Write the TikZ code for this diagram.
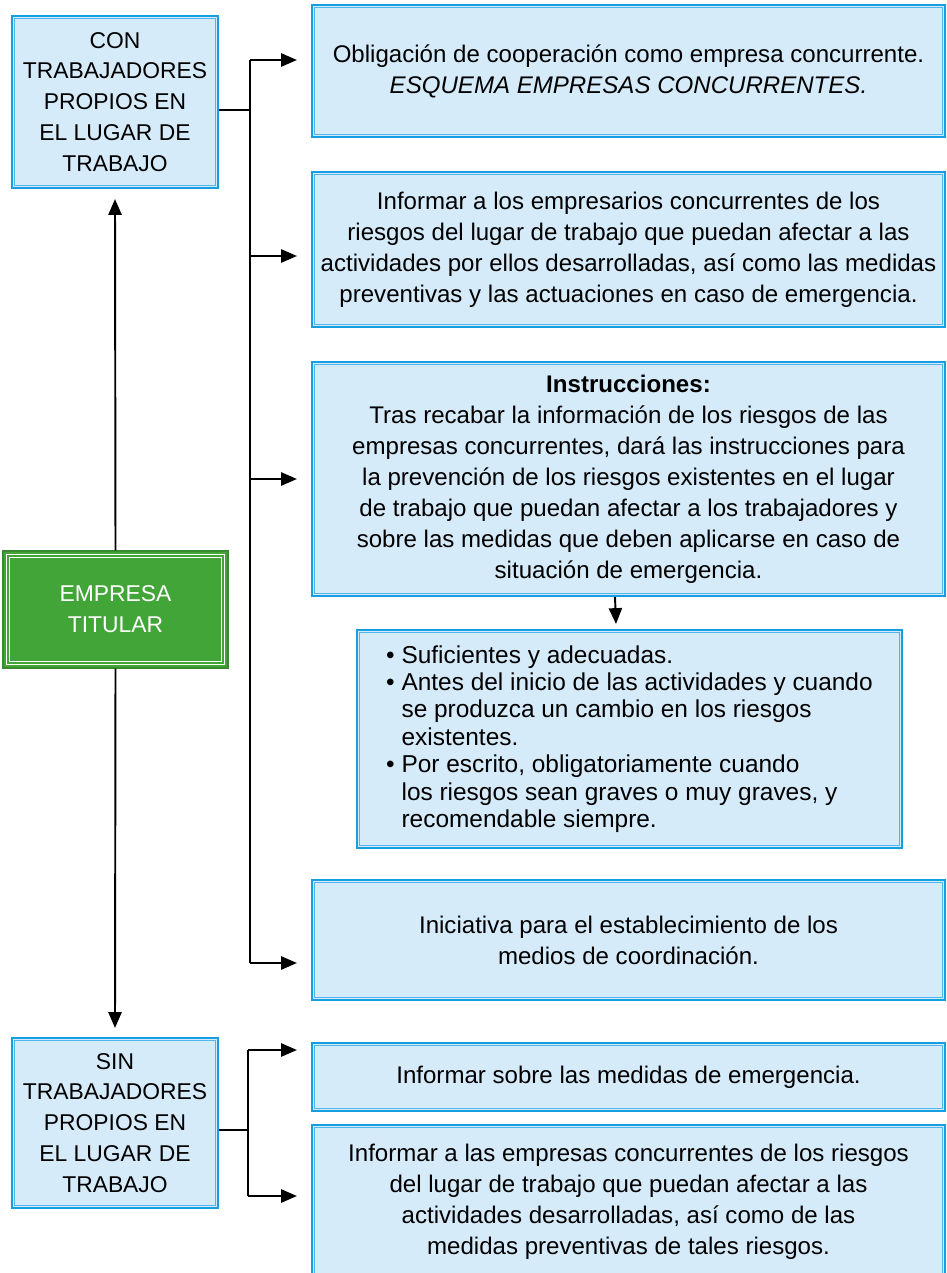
\documentclass[tikz,border=0pt]{standalone}
\usepackage{fontspec}
\setmainfont{Liberation Sans}
\usetikzlibrary{arrows.meta, positioning, calc}
\definecolor{bordeazul}{RGB}{22,158,226}
\definecolor{fondoazul}{RGB}{214,235,250}
\definecolor{lineaazul}{RGB}{80,182,236}
\definecolor{verdetitular}{RGB}{66,165,55}

\begin{document}
\begin{tikzpicture}[
    caja/.style={rectangle, draw=bordeazul, line width=1.2pt, fill=fondoazul, align=center, inner sep=0pt,
        font=\fontsize{13.7}{17.6}\selectfont},
    lateral/.style={caja, font=\fontsize{13}{17.6}\selectfont},
    titular/.style={rectangle, draw=verdetitular!85!black, line width=0.8pt, fill=verdetitular, text=white,
        align=center, inner sep=0pt, font=\fontsize{13}{17.6}\selectfont},
    interior/.style={draw=lineaazul, line width=0.6pt},
    flecha/.style={-{Triangle[length=9pt, width=7.5pt]}, line width=1.1pt},
    linea/.style={line width=1.1pt}]

    \useasboundingbox (0,0) rectangle (18.94,-25.46);

    % columna izquierda
    \node[lateral, minimum width=4.12cm, minimum height=3.44cm] (con) at (2.30,-2.04)
        {CON\\TRABAJADORES\\PROPIOS EN\\EL LUGAR DE\\TRABAJO};
    \node[titular, minimum width=4.5cm, minimum height=2.34cm] (emp) at (2.31,-12.19)
        {EMPRESA\\TITULAR};
    \node[lateral, minimum width=4.12cm, minimum height=3.40cm] (sin) at (2.30,-22.46)
        {SIN\\TRABAJADORES\\PROPIOS EN\\EL LUGAR DE\\TRABAJO};

    % columna derecha
    \node[caja, minimum width=12.66cm, minimum height=2.64cm] (oblig) at (12.57,-1.42)
        {Obligación de cooperación como empresa concurrente.\\\textit{ESQUEMA EMPRESAS CONCURRENTES.}};
    \node[caja, minimum width=12.66cm, minimum height=3.10cm] (informar) at (12.57,-4.99)
        {Informar a los empresarios concurrentes de los\\riesgos del lugar de trabajo que puedan afectar a las\\
         actividades por ellos desarrolladas, así como las medidas\\preventivas y las actuaciones en caso de emergencia.};
    \node[caja, minimum width=12.66cm, minimum height=4.68cm] (instr) at (12.57,-9.58)
        {\textbf{Instrucciones:}\\Tras recabar la información de los riesgos de las\\
         empresas concurrentes, dará las instrucciones para\\la prevención de los riesgos existentes en el lugar\\
         de trabajo que puedan afectar a los trabajadores y\\sobre las medidas que deben aplicarse en caso de\\
         situación de emergencia.};
    \node[caja, minimum width=10.9cm, minimum height=4.36cm, align=left,
          font=\fontsize{13.9}{15.6}\selectfont] (detalle) at (12.59,-14.78)
        {• Suficientes y adecuadas.\\
         • Antes del inicio de las actividades y cuando\\
         \phantom{• }se produzca un cambio en los riesgos\\
         \phantom{• }existentes.\\
         • Por escrito, obligatoriamente cuando\\
         \phantom{• }los riesgos sean graves o muy graves, y\\
         \phantom{• }recomendable siempre.};
    \node[caja, minimum width=12.66cm, minimum height=2.40cm] (inic) at (12.57,-18.80)
        {Iniciativa para el establecimiento de los\\medios de coordinación.};
    \node[caja, minimum width=12.66cm, minimum height=1.36cm] (emerg) at (12.57,-21.54)
        {Informar sobre las medidas de emergencia.};
    \node[caja, minimum width=12.66cm, minimum height=3.06cm] (riesgos) at (12.57,-24.03)
        {Informar a las empresas concurrentes de los riesgos\\del lugar de trabajo que puedan afectar a las\\
         actividades desarrolladas, así como de las\\medidas preventivas de tales riesgos.};

    % linea interior de las cajas
    \foreach \n in {con,sin,oblig,informar,instr,detalle,inic,emerg,riesgos}
        \draw[interior] ([shift={(2.2pt,-2.2pt)}]\n.north west) rectangle ([shift={(-2.2pt,2.2pt)}]\n.south east);
    \foreach \d in {2.3pt,4.2pt}
        \draw[white, line width=0.6pt] ([shift={(\d,-\d)}]emp.north west) rectangle ([shift={(-\d,\d)}]emp.south east);

    % conexiones
    \draw[flecha] (emp.north) -- ([yshift=-0.2cm]con.south);
    \draw[flecha] (emp.south) -- ([yshift=0.18cm]sin.north);

    \coordinate (tronco) at (5.0,-2.20);
    \draw[linea] ([yshift=-0.16cm]con.east) -- (tronco);
    \draw[linea] ([yshift=0.22cm]oblig.west -| tronco) -- ([yshift=-0.46cm]inic.west -| tronco);
    \draw[flecha] ([yshift=0.22cm]oblig.west -| tronco) -- ([xshift=-0.28cm, yshift=0.22cm]oblig.west);
    \draw[flecha] ([yshift=-0.13cm]informar.west -| tronco) -- ([xshift=-0.28cm, yshift=-0.13cm]informar.west);
    \draw[flecha] (instr.west -| tronco) -- ([xshift=-0.28cm]instr.west);
    \draw[flecha] ([yshift=-0.46cm]inic.west -| tronco) -- ([xshift=-0.28cm, yshift=-0.46cm]inic.west);
    \draw[flecha] ([xshift=-0.27cm]instr.south) -- ([xshift=-0.27cm, yshift=0.1cm]detalle.north);

    \coordinate (tronco2) at (4.96,-22.60);
    \draw[linea] ([yshift=-0.14cm]sin.east) -- (tronco2);
    \draw[linea] ([yshift=0.54cm]emerg.west -| tronco2) -- ([yshift=0.11cm]riesgos.west -| tronco2);
    \draw[flecha] ([yshift=0.54cm]emerg.west -| tronco2) -- ([xshift=-0.28cm, yshift=0.54cm]emerg.west);
    \draw[flecha] ([yshift=0.11cm]riesgos.west -| tronco2) -- ([xshift=-0.28cm, yshift=0.11cm]riesgos.west);
\end{tikzpicture}
\end{document}
